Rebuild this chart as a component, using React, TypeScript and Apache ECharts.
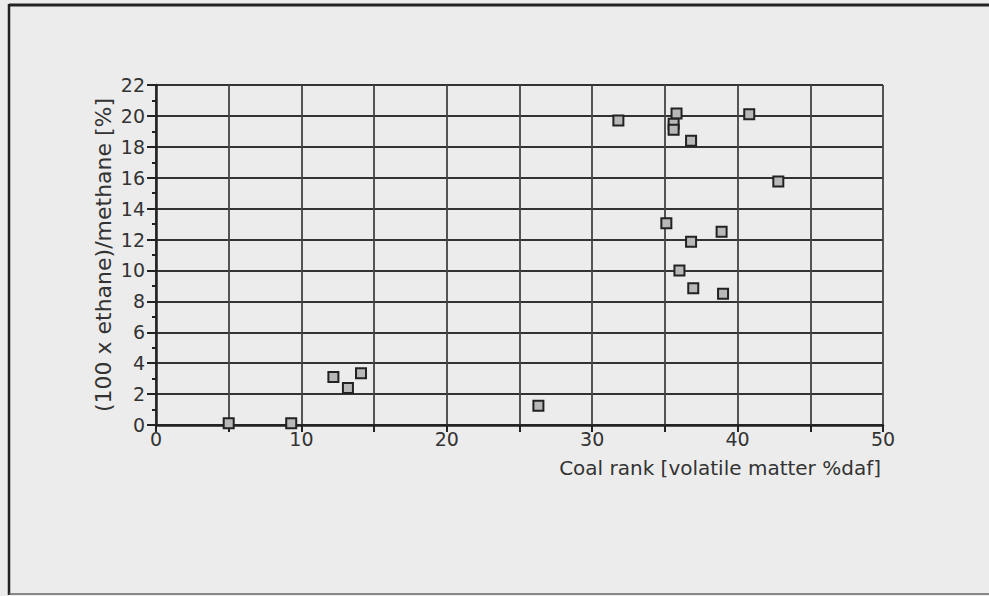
import React, { useEffect, useRef } from "react";
import * as echarts from "echarts";

const volatileMatter = [5.0, 9.3, 12.2, 13.2, 14.1, 26.3, 31.8, 35.8, 35.6, 35.6, 36.8, 40.8, 42.8, 35.1, 38.9, 36.8, 36.0, 36.95, 39.0];
const ethaneRatio = [0.12, 0.12, 3.1, 2.4, 3.35, 1.25, 19.7, 20.15, 19.5, 19.1, 18.4, 20.1, 15.75, 13.05, 12.5, 11.85, 10.0, 8.85, 8.5];
const xTickLabels = ["0", "10", "20", "30", "40", "50"];
const yTickLabels = ["0", "2", "4", "6", "8", "10", "12", "14", "16", "18", "20", "22"];
const xTitle = "Coal rank [volatile matter %daf]";
const yTitle = "(100 x ethane)/methane [%]";

const FONT = "'DejaVu Sans', 'Liberation Sans', Arial, sans-serif";

export default function App() {
  const ref = useRef<HTMLDivElement>(null);
  useEffect(() => {
    if (!ref.current) return;
    const chart = echarts.init(ref.current, undefined, { renderer: "svg" });
    const points = volatileMatter.map((x, i) => [x, ethaneRatio[i]]);
    chart.setOption({
      animation: false,
      backgroundColor: "#ececec",
      textStyle: { fontFamily: FONT },
      grid: { left: 156, top: 85, width: 727, height: 340, containLabel: false },
      xAxis: {
        type: "value",
        min: 0,
        max: 50,
        interval: 5,
        axisLine: { show: true, onZero: false, lineStyle: { color: "#222", width: 2.5 } },
        axisTick: { show: true, length: 7, lineStyle: { color: "#222", width: 2 } },
        axisLabel: {
          margin: 4,
          fontSize: 19,
          color: "#333",
          fontFamily: FONT,
          formatter: (v: number) => (xTickLabels.includes(String(v)) ? String(v) : ""),
        },
        splitLine: { show: true, lineStyle: { color: "#444", width: 1.8 } },
      },
      yAxis: {
        type: "value",
        min: 0,
        max: 22,
        interval: 2,
        axisLine: { show: true, onZero: false, lineStyle: { color: "#222", width: 2.5 } },
        axisTick: { show: true, length: 9, lineStyle: { color: "#222", width: 2 } },
        minorTick: { show: true, splitNumber: 2, length: 4, lineStyle: { color: "#222", width: 2 } },
        axisLabel: {
          margin: 11,
          fontSize: 19,
          color: "#333",
          fontFamily: FONT,
          formatter: (v: number) => (yTickLabels.includes(String(v)) ? String(v) : ""),
        },
        splitLine: { show: true, lineStyle: { color: "#333", width: 2 } },
      },
      series: [
        {
          type: "scatter",
          data: points,
          symbol: "rect",
          symbolSize: 10,
          itemStyle: { color: "#b8b8b8", borderColor: "#222", borderWidth: 2, opacity: 1 },
          z: 5,
        },
      ],
      graphic: [
        { type: "line", shape: { x1: 9, y1: 5, x2: 989, y2: 5 }, style: { stroke: "#222", lineWidth: 3 } },
        { type: "line", shape: { x1: 9, y1: 4, x2: 9, y2: 595 }, style: { stroke: "#222", lineWidth: 2.5 } },
        { type: "line", shape: { x1: 9, y1: 594, x2: 989, y2: 594 }, style: { stroke: "#666", lineWidth: 1.5 } },
        {
          type: "text",
          x: 881,
          y: 468,
          style: { text: xTitle, fill: "#333", font: `20px ${FONT}`, align: "right", verticalAlign: "middle" },
        },
        {
          type: "text",
          x: 103,
          y: 255,
          rotation: Math.PI / 2,
          style: { text: yTitle, fill: "#333", font: `22px ${FONT}`, align: "center", verticalAlign: "middle" },
        },
      ],
    });
    return () => chart.dispose();
  }, []);
  return <div ref={ref} style={{ width: 989, height: 596, position: "fixed", left: 0, top: 0 }} />;
}
